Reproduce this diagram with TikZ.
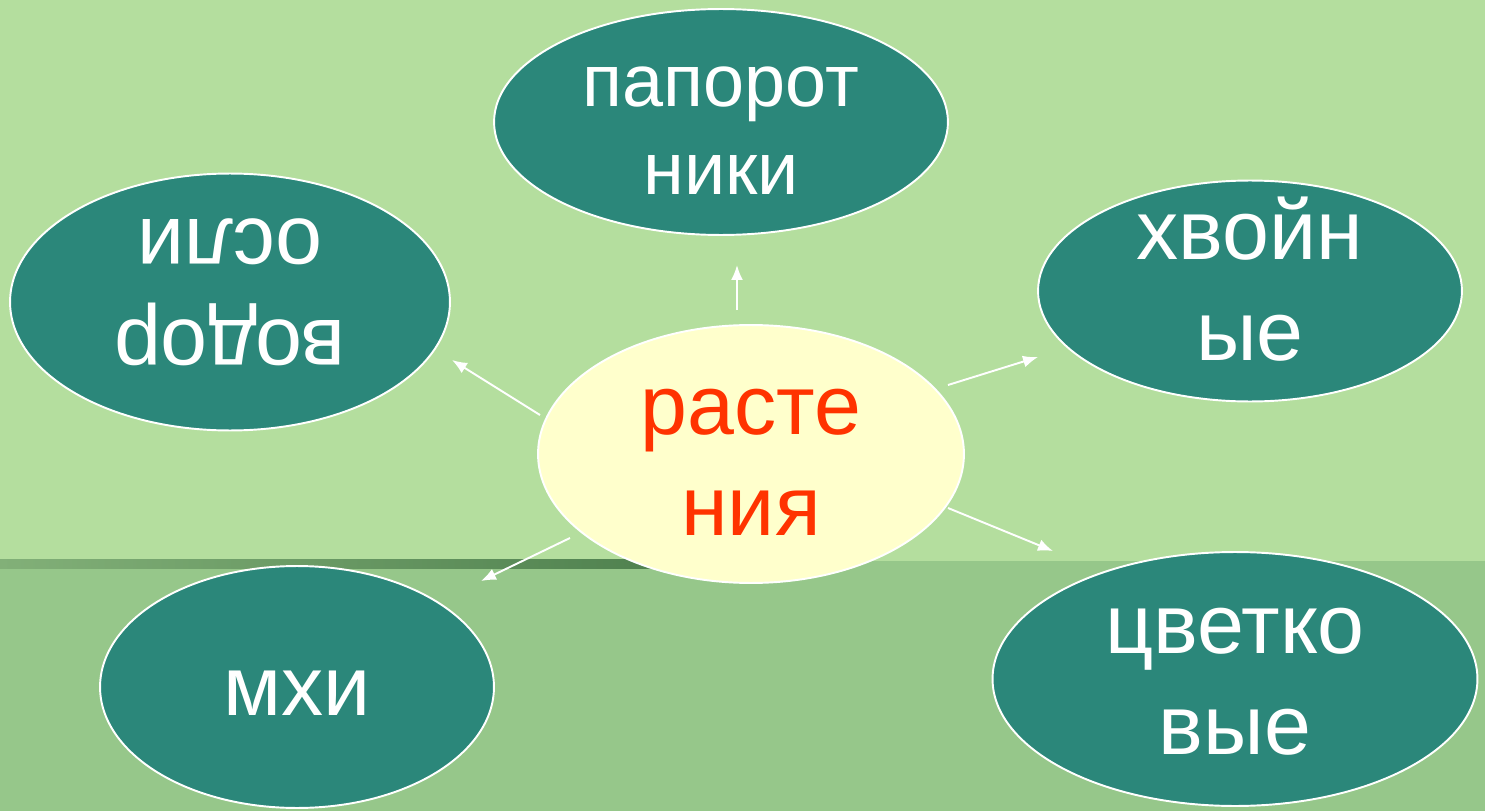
\documentclass[tikz,border=0pt]{standalone}
\usepackage{fontspec}
\setmainfont{Liberation Sans}
\usepackage{tikz}
\usetikzlibrary{shapes.geometric,arrows.meta}

\definecolor{lightgrass}{RGB}{180,222,158}
\definecolor{darkgrass}{RGB}{150,199,138}
\definecolor{stripleft}{RGB}{130,176,120}
\definecolor{stripright}{RGB}{76,126,76}
\definecolor{teal}{RGB}{43,135,122}
\definecolor{cream}{RGB}{255,255,204}
\definecolor{redtext}{RGB}{255,51,0}

% two-line label, moved down inside its ellipse
\newcommand\lowered[2]{\raisebox{-#1}[\height][\depth]{\begin{tabular}{@{}c@{}}#2\end{tabular}}}

\begin{document}
\begin{tikzpicture}[x=0.02cm,y=-0.02cm,
  leaf/.style={ellipse,draw=white,line width=1.1pt,fill=teal,text=white,
    inner sep=-2cm,font=\fontsize{48}{57}\selectfont},
  root/.style={leaf,fill=cream,text=redtext},
  link/.style={draw=white,line width=1.1pt,-{Latex[length=0.3cm,width=0.24cm]}}]

%% background
\useasboundingbox (0,0) rectangle (1485,811);
\fill[lightgrass] (0,0) rectangle (1485,811);
\fill[darkgrass] (0,561) rectangle (1485,811);
\shade[left color=stripleft,right color=stripright] (0,559) rectangle (700,568);

%% ellipses
\node[leaf,minimum width=9.08cm,minimum height=4.52cm,font=\fontsize{42}{50}\selectfont] (ferns) at (721,122) {\lowered{0.22cm}{папорот\\ники}};
\node[leaf,minimum width=8.8cm,minimum height=5.14cm,rotate=180] (algae) at (230,302) {\lowered{0.24cm}{водор\\осли}};
\node[leaf,minimum width=8.48cm,minimum height=4.42cm] (conifers) at (1250,291) {\lowered{-0.02cm}{хвойн\\ые}};
\node[leaf,minimum width=7.88cm,minimum height=4.84cm] (mosses) at (297,687) {\lowered{0.16cm}{мхи}};
\node[leaf,minimum width=9.7cm,minimum height=5.08cm] (flowering) at (1235,679) {\lowered{0.1cm}{цветко\\вые}};
\node[root,minimum width=8.52cm,minimum height=5.16cm] (plants) at (751,454) {\lowered{0.22cm}{расте\\ния}};

%% arrows
\coordinate (toFerns) at (737,265);
\coordinate (toAlgae) at (452,360);
\coordinate (toConifers) at (1038,357);
\coordinate (toMosses) at (481,581);
\coordinate (toFlowering) at (1053,551);
\coordinate (fromTop) at (737,310);
\coordinate (fromLeft) at (540,415);
\coordinate (fromRight) at (948,385);
\coordinate (fromLowLeft) at (570,538);
\coordinate (fromLowRight) at (948,508);
\draw[link] (fromTop) -- (toFerns);
\draw[link] (fromLeft) -- (toAlgae);
\draw[link] (fromRight) -- (toConifers);
\draw[link] (fromLowLeft) -- (toMosses);
\draw[link] (fromLowRight) -- (toFlowering);

\end{tikzpicture}
\end{document}
